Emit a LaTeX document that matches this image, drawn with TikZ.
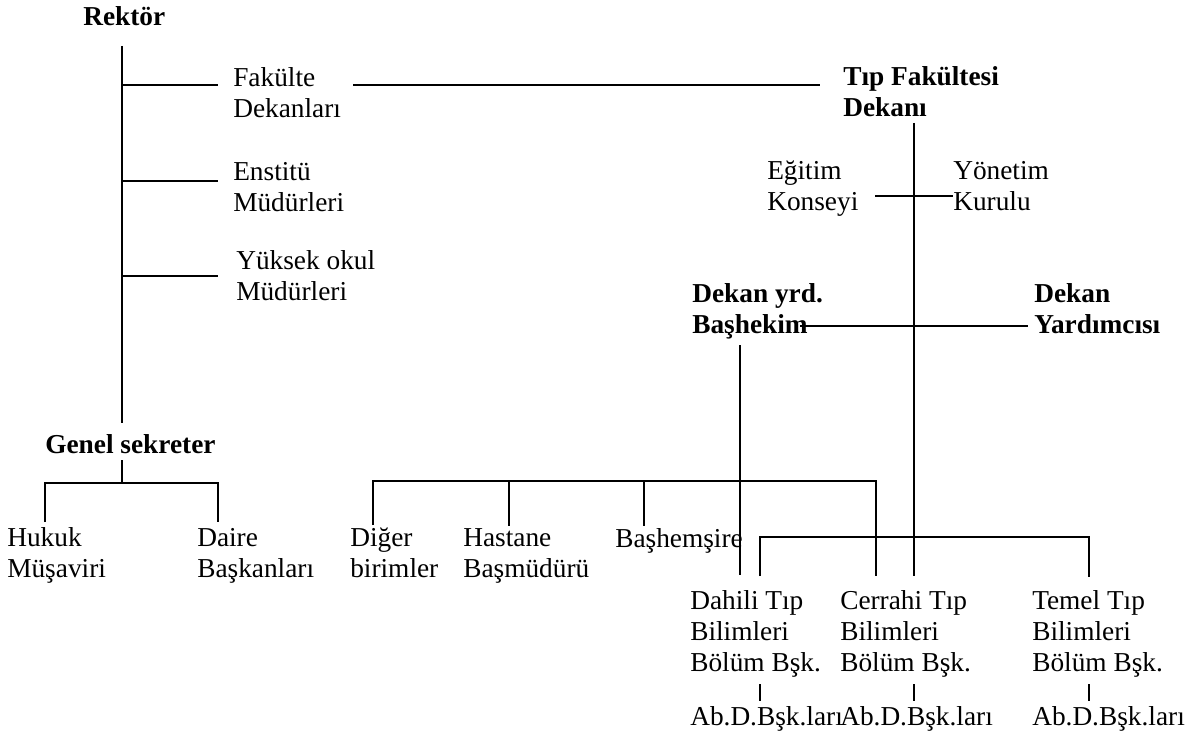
\documentclass[tikz,border=0pt]{standalone}
\usepackage{fontspec}
\setmainfont{Liberation Serif}
\tikzstyle{unit} = [anchor=base west, inner sep=0pt, align=left, font=\fontsize{20.5}{23.25}\selectfont]
\tikzstyle{head} = [unit, font=\fontsize{20.5}{23.25}\selectfont\bfseries]
\tikzstyle{wire} = [line width=1.4pt]

\begin{document}
\begin{tikzpicture}[x=0.75pt,y=-0.75pt]
	  \useasboundingbox (0,0) rectangle (1192,738);

	  % nodes sit on the baseline of their last line
	  \node (rektor) at (83,26) [head] {Rektör};
	  \node (fak) at (233,118) [unit] {Fakülte\\Dekanları};
	  \node (ens) at (233,211) [unit] {Enstitü\\Müdürleri};
	  \node (yuk) at (236,300) [unit] {Yüksek okul\\Müdürleri};
	  \node (genel) at (45,453) [head] {Genel sekreter};
	  \node (hukuk) at (7,577) [unit] {Hukuk\\Müşaviri};
	  \node (daire) at (197,577) [unit] {Daire\\Başkanları};
	  \node (tip) at (843,117) [head] {Tıp Fakültesi\\Dekanı};
	  \node (egitim) at (767,210) [unit] {Eğitim\\Konseyi};
	  \node (yonetim) at (953,210) [unit] {Yönetim\\Kurulu};
	  \node (dyrd) at (692,333) [head] {Dekan yrd.\\Başhekim};
	  \node (dekyrd) at (1034,333) [head] {Dekan\\Yardımcısı};
	  \node (diger) at (350,577) [unit] {Diğer\\birimler};
	  \node (hastane) at (463,577) [unit] {Hastane\\Başmüdürü};
	  \node (bashem) at (615,547) [unit] {Başhemşire};
	  \node (dahili) at (690,671) [unit] {Dahili Tıp\\Bilimleri\\Bölüm Bşk.};
	  \node (cerrahi) at (840,671) [unit] {Cerrahi Tıp\\Bilimleri\\Bölüm Bşk.};
	  \node (temel) at (1032,671) [unit] {Temel Tıp\\Bilimleri\\Bölüm Bşk.};
	  \node (abdA) at (690,725) [unit] {Ab.D.Bşk.ları};
	  \node (abdB) at (840,725) [unit] {Ab.D.Bşk.ları};
	  \node (abdC) at (1032,725) [unit] {Ab.D.Bşk.ları};

	  % rektor side
	  \coordinate (rtop) at (122,46);
	  \coordinate (rbot) at (122,423);
	  \coordinate (fakL) at (122,85);
	  \coordinate (fakR) at (218,85);
	  \coordinate (ensL) at (122,181);
	  \coordinate (ensR) at (218,181);
	  \coordinate (yukL) at (122,276);
	  \coordinate (yukR) at (218,276);
	  \coordinate (linkL) at (353,85);
	  \coordinate (linkR) at (820,85);
	  \coordinate (gtop) at (122,460);
	  \coordinate (gmid) at (122,483);
	  \coordinate (gL) at (45,483);
	  \coordinate (gLb) at (45,522);
	  \coordinate (gR) at (218,483);
	  \coordinate (gRb) at (218,522);

	  % dekan side
	  \coordinate (dtop) at (914,123);
	  \coordinate (dbot) at (914,576);
	  \coordinate (kurL) at (875,196);
	  \coordinate (kurR) at (953,196);
	  \coordinate (yrdL) at (800,326);
	  \coordinate (yrdR) at (1028,326);
	  \coordinate (btop) at (740,345);
	  \coordinate (bbot) at (740,575);
	  \coordinate (hA1) at (373,481);
	  \coordinate (hA2) at (509,481);
	  \coordinate (hA3) at (644,481);
	  \coordinate (hA4) at (876,481);
	  \coordinate (hB1) at (760,537);
	  \coordinate (hB2) at (1089,537);

	  \draw [wire] (rtop) to (rbot);
	  \draw [wire] (fakL) to (fakR);
	  \draw [wire] (ensL) to (ensR);
	  \draw [wire] (yukL) to (yukR);
	  \draw [wire] (linkL) to (linkR);
	  \draw [wire] (gtop) to (gmid);
	  \draw [wire] (gLb) -- (gL) -- (gR) -- (gRb);

	  \draw [wire] (dtop) to (dbot);
	  \draw [wire] (kurL) to (kurR);
	  \draw [wire] (yrdL) to (yrdR);
	  \draw [wire] (btop) to (bbot);
	  \draw [wire] (hA1 |- 0,525) -- (hA1) -- (hA4) -- (hA4 |- 0,576);
	  \draw [wire] (hA2) to (hA2 |- 0,526);
	  \draw [wire] (hA3) to (hA3 |- 0,526);
	  \draw [wire] (hB1 |- 0,576) -- (hB1) -- (hB2) -- (hB2 |- 0,577);
	  \draw [wire] (hB1 |- 0,684) to (hB1 |- 0,701);
	  \draw [wire] (dtop |- 0,684) to (dtop |- 0,701);
	  \draw [wire] (hB2 |- 0,684) to (hB2 |- 0,701);
	\end{tikzpicture}
\end{document}
